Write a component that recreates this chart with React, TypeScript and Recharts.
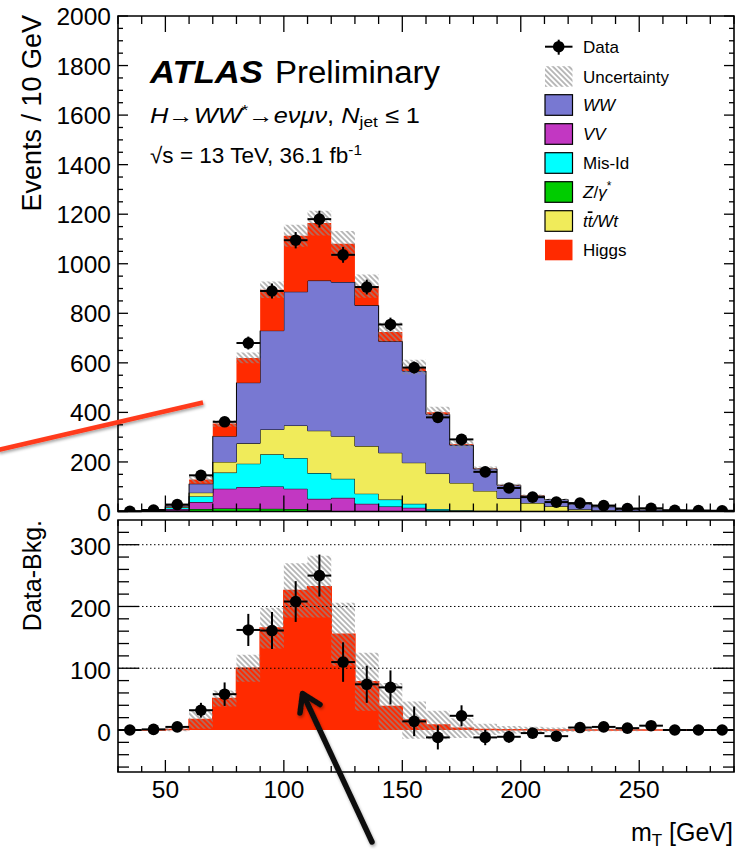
import React from 'react';
import { ComposedChart, Area, Scatter, XAxis, YAxis, ErrorBar, ReferenceLine, ReferenceArea } from 'recharts';

// bin edges of the mT histogram (GeV); last edge closes the final bin
const binEdges = [30, 40, 50, 60, 70, 80, 90, 100, 110, 120, 130, 140, 150, 160, 170, 180, 190, 200, 210, 220, 230, 240, 250, 260, 270, 280, 290];
const binCenters = [35, 45, 55, 65, 75, 85, 95, 105, 115, 125, 135, 145, 155, 165, 175, 185, 195, 205, 215, 225, 235, 245, 255, 265, 275, 285];

// stacked contributions per bin (events / 10 GeV), bottom to top
const zGamma = [0.3, 1.5, 4, 10, 12, 12, 11, 10, 5, 2, 1, 0.5, 0.3, 0.2, 0.1, 0, 0, 0, 0, 0, 0, 0, 0, 0, 0, 0];
const diboson = [0.2, 1, 6, 28, 80, 87, 90, 82, 46, 53, 30, 19.5, 14.7, 4, 2, 1, 1, 0.5, 0.5, 0, 0, 0, 0, 0, 0, 0];
const misId = [0.3, 1.5, 6, 24, 65, 94, 130, 124, 104, 77, 41, 28, 16, 6, 3, 2, 1, 0.5, 0.5, 0, 0, 0, 0, 0, 0, 0];
const topQuark = [0.1, 0.5, 3, 14, 43, 82, 100, 131, 171, 172, 192, 189, 166, 143, 110, 80, 51, 33, 20, 9, 5, 3, 2, 1.5, 1, 1];
const wwBkg = [0.1, 0.5, 4, 36, 104, 245, 399, 540, 606, 622, 568, 450, 370, 239, 153, 89, 53, 29, 27, 21, 14, 6, 4, 3.5, 3, 2];
const higgs = [0, 0.2, 1, 17, 51, 100, 165, 226, 232, 155, 78, 38, 16, 8, 3, 1, 0.5, 0.3, 0.2, 0, 0, 0, 0, 0, 0, 0];
const bkgUnc = [0.5, 1, 3, 15, 13, 22, 33, 44, 50, 51, 47, 38, 30, 23, 16, 9, 6, 5, 4, 3, 2, 2, 1, 1, 1, 1];

// observed data
const dataEvents = [1, 6, 28, 146, 362, 680, 890, 1095, 1180, 1036, 906, 755, 581, 380, 291, 160, 95, 58, 38, 34, 24, 12, 13, 5, 4, 3];
const dataErr = [1, 2.5, 5.3, 12, 19, 26, 30, 33, 34, 32, 30, 27.5, 24, 19.5, 17, 12.6, 9.7, 7.6, 6.2, 5.8, 4.9, 3.5, 3.6, 2.2, 2, 1.7];
const dataMinusBkg = [0, 1, 5, 32, 58, 162, 161, 208, 250, 110, 74, 69, 14, -12, 23, -12, -11, -5, -10, 4, 5, 3, 7, 0, 0, 0];

// axis labels
const xLabels = [50, 100, 150, 200, 250];
const topYLabels = [0, 200, 400, 600, 800, 1000, 1200, 1400, 1600, 1800, 2000];
const botYLabels = [0, 100, 200, 300];

const topYTicks: number[] = [];
for (let v = 0; v <= 2000; v += 50) topYTicks.push(v);
const botYTicks: number[] = [];
for (let v = -60; v <= 320; v += 20) botYTicks.push(v);

const FONT = '"Liberation Sans", Arial, Helvetica, sans-serif';
const PL = 118;
const PR = 734;
const TOP_H = 540;
const TOP_T = 16;
const TOP_B = 511.5;
const BOT_T = 20;
const BOT_B = 272;

const C_WW = '#7878d2';
const C_VV = '#c237c2';
const C_MIS = '#00ffff';
const C_Z = '#00cc00';
const C_TOP = '#f0eb5a';
const C_H = '#ff2a00';

const histRows = binEdges.map((x, i) => {
  const k = Math.min(i, higgs.length - 1);
  const tot = zGamma[k] + diboson[k] + misId[k] + topQuark[k] + wwBkg[k] + higgs[k];
  return {
    x,
    z: zGamma[k],
    vv: diboson[k],
    mis: misId[k],
    top: topQuark[k],
    ww: wwBkg[k],
    h: higgs[k],
    tot,
    unc: bkgUnc[k],
  };
});

const topPoints = binCenters.map((x, i) => ({ x, y: dataEvents[i], ey: dataErr[i], ex: 5 }));
const diffPoints = binCenters.map((x, i) => ({ x, y: dataMinusBkg[i], ey: dataErr[i], ex: 5 }));

const dot = (p: any) => <circle cx={p.cx} cy={p.cy} r={5.8} fill="#000" />;

function TopXTick(props: any) {
  const x = props.x;
  const major = xLabels.includes(props.payload.value);
  const len = major ? 16 : 8;
  return (
    <g>
      <line x1={x} x2={x} y1={TOP_T} y2={TOP_T + len} stroke="#000" strokeWidth={1.3} />
      <line x1={x} x2={x} y1={TOP_B - len} y2={TOP_B} stroke="#000" strokeWidth={1.3} />
    </g>
  );
}

function TopYTick(props: any) {
  const y = props.y;
  const v = props.payload.value;
  const major = topYLabels.includes(v);
  const len = major ? 10 : 5;
  return (
    <g>
      <line x1={PL} x2={PL + len} y1={y} y2={y} stroke="#000" strokeWidth={1.3} />
      <line x1={PR - len} x2={PR} y1={y} y2={y} stroke="#000" strokeWidth={1.3} />
      {major && (
        <text x={PL - 7} y={y + 9} textAnchor="end" fontSize={24.5} fontFamily={FONT} fill="#000">
          {v}
        </text>
      )}
    </g>
  );
}

function BotXTick(props: any) {
  const x = props.x;
  const v = props.payload.value;
  const major = xLabels.includes(v);
  const len = major ? 12 : 6;
  return (
    <g>
      <line x1={x} x2={x} y1={BOT_T} y2={BOT_T + len} stroke="#000" strokeWidth={1.3} />
      <line x1={x} x2={x} y1={BOT_B - len} y2={BOT_B} stroke="#000" strokeWidth={1.3} />
      {major && (
        <text x={x} y={BOT_B + 26} textAnchor="middle" fontSize={24.5} fontFamily={FONT} fill="#000">
          {v}
        </text>
      )}
    </g>
  );
}

function BotYTick(props: any) {
  const y = props.y;
  const v = props.payload.value;
  const major = botYLabels.includes(v);
  const len = v % 100 === 0 ? 21 : 11;
  return (
    <g>
      <line x1={PL} x2={PL + len} y1={y} y2={y} stroke="#000" strokeWidth={1.3} />
      <line x1={PR - len} x2={PR} y1={y} y2={y} stroke="#000" strokeWidth={1.3} />
      {major && (
        <text x={PL - 7} y={y + 10.5} textAnchor="end" fontSize={24.5} fontFamily={FONT} fill="#000">
          {v}
        </text>
      )}
    </g>
  );
}

function LegendBox({ y, fill, border = true }: { y: number; fill: string; border?: boolean }) {
  return (
    <rect x={545} y={y - 10.3} width={27.5} height={20.6} fill={fill} stroke={border ? '#000' : 'none'} strokeWidth={1.2} />
  );
}

function Overlay() {
  const rows = [46.7, 76.5, 105, 134, 163, 192, 221, 250];
  const tx = 583;
  return (
    <svg width={738} height={849} style={{ position: 'absolute', left: 0, top: 0, pointerEvents: 'none' }}>
      <defs>
        <filter id="shadow" x="-20%" y="-20%" width="140%" height="140%">
          <feDropShadow dx={1} dy={2} stdDeviation={1.5} floodColor="#000" floodOpacity={0.35} />
        </filter>
      </defs>
      <g fontFamily={FONT} fill="#000">
        <text x={150} y={83} fontSize={31} fontWeight="bold" fontStyle="italic" textLength={113} lengthAdjust="spacingAndGlyphs">
          ATLAS
        </text>
        <text x={275} y={83} fontSize={31} textLength={165} lengthAdjust="spacingAndGlyphs">
          Preliminary
        </text>
        <text x={150} y={123} fontSize={22} textLength={270} lengthAdjust="spacingAndGlyphs">
          <tspan fontStyle="italic">H</tspan>→<tspan fontStyle="italic">WW</tspan>
          <tspan fontSize={15} dy={-8}>*</tspan>
          <tspan dy={8}>→</tspan>
          <tspan fontStyle="italic">eνμν</tspan>, <tspan fontStyle="italic">N</tspan>
          <tspan fontSize={15} dy={4}>jet</tspan>
          <tspan dy={-4}> ≤ 1</tspan>
        </text>
        <text x={150} y={163} fontSize={22} textLength={212} lengthAdjust="spacingAndGlyphs">
          √s = 13 TeV, 36.1 fb<tspan fontSize={15} dy={-8}>-1</tspan>
        </text>

        <text transform="translate(40.5, 15) rotate(-90)" textAnchor="end" fontSize={27}>Events / 10 GeV</text>
        <text transform="translate(41, 520) rotate(-90)" textAnchor="end" fontSize={25}>Data-Bkg.</text>
        <text x={733} y={841} textAnchor="end" fontSize={25}>
          m<tspan fontSize={17} dy={5}>T</tspan>
          <tspan dy={-5}> [GeV]</tspan>
        </text>

        {/* legend */}
        <line x1={545} x2={572.5} y1={rows[0]} y2={rows[0]} stroke="#000" strokeWidth={2} />
        <line x1={558.7} x2={558.7} y1={rows[0] - 7} y2={rows[0] + 8} stroke="#000" strokeWidth={2} />
        <circle cx={558.7} cy={rows[0]} r={5.8} fill="#000" />
        <rect x={545} y={rows[1] - 10.3} width={27.5} height={20.6} fill="url(#hatch)" />
        <LegendBox y={rows[2]} fill={C_WW} />
        <LegendBox y={rows[3]} fill={C_VV} />
        <LegendBox y={rows[4]} fill={C_MIS} />
        <LegendBox y={rows[5]} fill={C_Z} />
        <LegendBox y={rows[6]} fill={C_TOP} />
        <LegendBox y={rows[7]} fill={C_H} border={false} />
        <g fontSize={17}>
          <text x={tx} y={rows[0] + 6.3}>Data</text>
          <text x={tx} y={rows[1] + 6.3}>Uncertainty</text>
          <text x={tx} y={rows[2] + 6.3} fontStyle="italic">WW</text>
          <text x={tx} y={rows[3] + 6.3} fontStyle="italic">VV</text>
          <text x={tx} y={rows[4] + 6.3}>Mis-Id</text>
          <text x={tx} y={rows[5] + 6.3}>
            <tspan fontStyle="italic">Z</tspan>/<tspan fontStyle="italic">γ</tspan>
            <tspan fontSize={12} dy={-8}>*</tspan>
          </text>
          <text x={tx} y={rows[6] + 6.3} fontStyle="italic">
            t<tspan textDecoration="overline">t</tspan>/Wt
          </text>
          <text x={tx} y={rows[7] + 6.3}>Higgs</text>
        </g>
      </g>

      {/* annotations */}
      <line x1={-2} y1={450} x2={203} y2={402.5} stroke="#ff3a1c" strokeWidth={4.5} filter="url(#shadow)" />
      <g stroke="#111" strokeWidth={5.5} strokeLinecap="round" strokeLinejoin="round" fill="none" filter="url(#shadow)">
        <line x1={372} y1={842} x2={303} y2={694} />
        <polyline points="300,713 302.5,693.5 320,704.5" />
      </g>
    </svg>
  );
}

export default function App() {
  return (
    <div style={{ position: 'absolute', left: 0, top: 0, width: 738, height: 849, background: '#fff' }}>
      <svg width={0} height={0} style={{ position: 'absolute' }}>
        <defs>
          <pattern id="hatch" width={3.8} height={3.8} patternUnits="userSpaceOnUse" patternTransform="rotate(-45)">
            <line x1={1.9} y1={0} x2={1.9} y2={3.8} stroke="#8c8c8c" strokeWidth={1.2} />
          </pattern>
        </defs>
      </svg>

      <div style={{ position: 'absolute', left: 0, top: 0 }}>
        <ComposedChart width={738} height={TOP_H} data={histRows} margin={{ top: TOP_T, right: 4, bottom: 0, left: 0 }}>
          <XAxis
            dataKey="x"
            type="number"
            domain={[30, 290]}
            ticks={binEdges}
            interval={0}
            height={TOP_H - TOP_B}
            axisLine={false}
            tickLine={false}
            tick={(p: any) => <TopXTick {...p} />}
            allowDataOverflow
          />
          <YAxis
            type="number"
            domain={[0, 2000]}
            ticks={topYTicks}
            interval={0}
            width={PL}
            axisLine={false}
            tickLine={false}
            tick={(p: any) => <TopYTick {...p} />}
            allowDataOverflow
          />
          <Area stackId="mc" dataKey="z" type="stepAfter" fill={C_Z} fillOpacity={1} stroke="#000" strokeWidth={1} isAnimationActive={false} />
          <Area stackId="mc" dataKey="vv" type="stepAfter" fill={C_VV} fillOpacity={1} stroke="#000" strokeWidth={1} isAnimationActive={false} />
          <Area stackId="mc" dataKey="mis" type="stepAfter" fill={C_MIS} fillOpacity={1} stroke="#000" strokeWidth={1} isAnimationActive={false} />
          <Area stackId="mc" dataKey="top" type="stepAfter" fill={C_TOP} fillOpacity={1} stroke="#000" strokeWidth={1} isAnimationActive={false} />
          <Area stackId="mc" dataKey="ww" type="stepAfter" fill={C_WW} fillOpacity={1} stroke="#000" strokeWidth={1} isAnimationActive={false} />
          <Area stackId="mc" dataKey="h" type="stepAfter" fill={C_H} fillOpacity={1} stroke="none" isAnimationActive={false} />
          <Area
            dataKey={(r: any) => [r.tot - r.unc, r.tot + r.unc]}
            type="stepAfter"
            fill="url(#hatch)"
            fillOpacity={1}
            stroke="none"
            isAnimationActive={false}
          />
          <Scatter data={topPoints} dataKey="y" shape={dot} isAnimationActive={false}>
            <ErrorBar dataKey="ey" direction="y" width={0} stroke="#000" strokeWidth={2} />
            <ErrorBar dataKey="ex" direction="x" width={0} stroke="#000" strokeWidth={2} />
          </Scatter>
          <ReferenceArea x1={30} x2={290} y1={0} y2={2000} fill="none" stroke="#000" strokeWidth={1.6} ifOverflow="visible" />
        </ComposedChart>
      </div>

      <div style={{ position: 'absolute', left: 0, top: 500 }}>
        <ComposedChart width={738} height={349} data={histRows} margin={{ top: BOT_T, right: 4, bottom: 0, left: 0 }}>
          <XAxis
            dataKey="x"
            type="number"
            domain={[30, 290]}
            ticks={binEdges}
            interval={0}
            height={349 - BOT_B}
            axisLine={false}
            tickLine={false}
            tick={(p: any) => <BotXTick {...p} />}
            allowDataOverflow
          />
          <YAxis
            type="number"
            domain={[-68, 340]}
            ticks={botYTicks}
            interval={0}
            width={PL}
            axisLine={false}
            tickLine={false}
            tick={(p: any) => <BotYTick {...p} />}
            allowDataOverflow
          />
          {[100, 200, 300].map((v) => (
            <ReferenceLine key={v} y={v} stroke="#000" strokeWidth={1} strokeDasharray="1.5 2.5" />
          ))}
          <Area dataKey="h" type="stepAfter" baseValue={0} fill={C_H} fillOpacity={1} stroke={C_H} strokeWidth={1.5} isAnimationActive={false} />
          <Area
            dataKey={(r: any) => [r.h - r.unc, r.h + r.unc]}
            type="stepAfter"
            fill="url(#hatch)"
            fillOpacity={1}
            stroke="none"
            isAnimationActive={false}
          />
          <Scatter data={diffPoints} dataKey="y" shape={dot} isAnimationActive={false}>
            <ErrorBar dataKey="ey" direction="y" width={0} stroke="#000" strokeWidth={2} />
            <ErrorBar dataKey="ex" direction="x" width={0} stroke="#000" strokeWidth={2} />
          </Scatter>
          <ReferenceArea x1={30} x2={290} y1={-68} y2={340} fill="none" stroke="#000" strokeWidth={1.6} ifOverflow="visible" />
        </ComposedChart>
      </div>

      <Overlay />
    </div>
  );
}
